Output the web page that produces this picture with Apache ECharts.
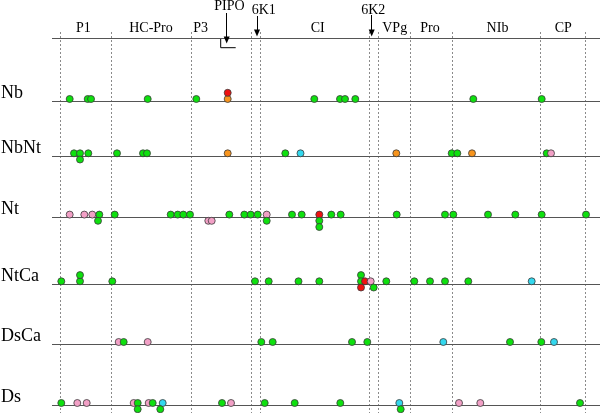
<!DOCTYPE html>
<html>
<head>
<meta charset="utf-8">
<script src="https://cdn.jsdelivr.net/npm/echarts@6/dist/echarts.min.js"></script>
<style>html,body{margin:0;padding:0;background:#fff}#c{width:600px;height:413px}</style>
</head>
<body>
<div id="c"></div>
<script>
// ---------------- DATA ----------------
const rows = ['Nb', 'NbNt', 'Nt', 'NtCa', 'DsCa', 'Ds'];
const proteins = ['P1', 'HC-Pro', 'P3', 'CI', 'VPg', 'Pro', 'NIb', 'CP'];
const proteinLabelPos = [31.3, 99, 148.7, 265.7, 342.7, 378, 445.5, 511.3];
const boundaries = [8.3, 59.3, 139.3, 199.3, 208, 317.3, 326.3, 358.3, 400.3, 488.3, 533.3];
const pointers = ['PIPO', '6K1', '6K2'];
const pointerPos = [174.7, 205, 319.7];
// sites: [map position, colour key, stack level (1 above, -1 below)]
const sitesNb = [[17.7,'g',0],[35.7,'g',0],[39,'g',0],[95.7,'g',0],[144.3,'g',0],[175.7,'o',0],[175.7,'r',1],
  [262.3,'g',0],[288,'g',0],[293,'g',0],[303.3,'g',0],[421.3,'g',0],[489.7,'g',0]];
const sitesNbNt = [[22,'g',0],[28,'g',0],[28,'g',-1],[36.3,'g',0],[65,'g',0],[91,'g',0],[95,'g',0],[175.7,'o',0],
  [233.3,'g',0],[248.5,'c',0],[344.3,'o',0],[399.7,'g',0],[405.3,'g',0],[420,'o',0],[494.7,'g',0],[499,'p',0]];
const sitesNt = [[17.7,'p',0],[32.3,'p',0],[40.3,'p',0],[47.3,'g',0],[46,'g',-1],[62.7,'g',0],[118.7,'g',0],
  [125.7,'g',0],[131.3,'g',0],[138,'g',0],[156.3,'p',-1],[159.7,'p',-1],[177.3,'g',0],[192.3,'g',0],[198.7,'g',0],
  [205.7,'g',0],[214.7,'p',0],[214.7,'g',-1],[240,'g',0],[249.7,'g',0],[267.3,'r',0],[267.3,'g',-1],[267.3,'g',-2],
  [279.3,'g',0],[288.7,'g',0],[344.7,'g',0],[393,'g',0],[401.3,'g',0],[436,'g',0],[463.3,'g',0],[489.7,'g',0],[534,'g',0]];
const sitesNtCa = [[9.3,'g',0],[28,'g',0],[28,'g',1],[60.3,'g',0],[203,'g',0],[216.7,'g',0],[246.5,'g',0],[267.3,'g',0],
  [309,'g',1],[309,'g',0],[313,'r',0],[318.7,'p',0],[309,'r',-1],[321.7,'g',-1],[334.3,'g',0],[362.3,'g',0],[378,'g',0],
  [393,'g',0],[416.3,'g',0],[479.7,'c',0]];
const sitesDsCa = [[66.7,'p',0],[71.7,'g',0],[95.7,'p',0],[209.3,'g',0],[220.7,'g',0],[300,'g',0],[315.3,'g',0],
  [391.3,'c',0],[458,'g',0],[489.3,'g',0],[502,'c',0]];
const sitesDs = [[9.3,'g',0],[25.3,'p',0],[34.7,'p',0],[81.7,'p',0],[85.7,'g',0],[85.7,'g',-1],[96.7,'p',0],[100.7,'g',0],
  [110.7,'c',0],[108.3,'g',-1],[170,'g',0],[179,'p',0],[212.7,'g',0],[242.7,'g',0],[288.3,'g',0],[347.3,'c',0],
  [348.7,'g',-1],[407,'p',0],[428.3,'p',0],[528,'g',0]];
const allSites = [sitesNb, sitesNbNt, sitesNt, sitesNtCa, sitesDsCa, sitesDs];

// ---------------- LAYOUT / STYLE ----------------
const colors = { g: '#0ee00e', r: '#ee1111', o: '#f7941d', p: '#f2a0c6', c: '#33d8ee' };
const rowLineY = [101.7, 156, 217.3, 284, 344.7, 405.7];
const topLineY = 38.3;
const dotLift = 2.7, stackStep = 6.2;
const serif = '"Liberation Serif", "Times New Roman", serif';

const chart = echarts.init(document.getElementById('c'), null, { renderer: 'canvas' });

const dots = [];
allSites.forEach((list, r) => {
  list.forEach(([x, k, lvl]) => {
    dots.push({ value: [x, rowLineY[r] - dotLift - lvl * stackStep], itemStyle: { color: colors[k] } });
  });
});

const arrowEnds = [[13, 40], [16, 33], [15, 33]];
const arrowLines = pointerPos.map((x, i) => [
  { coord: [x, arrowEnds[i][0]], symbol: 'none' },
  { coord: [x, arrowEnds[i][1]], symbol: 'triangle', symbolSize: [6, 7] }
]);

chart.setOption({
  animation: false,
  grid: { left: 52, right: 0, top: 0, bottom: 0 },
  xAxis: { type: 'value', min: 0, max: 548, show: false },
  yAxis: { type: 'value', min: 0, max: 413, inverse: true, show: false },
  series: [
    {
      type: 'line', silent: true, data: [], symbol: 'none',
      markLine: {
        silent: true, symbol: 'none', animation: false, label: { show: false },
        data: boundaries.map(b => [{ coord: [b, 32] }, { coord: [b, 413] }]),
        lineStyle: { color: '#8a8a8a', type: [2, 2], width: 1 }
      }
    },
    {
      type: 'line', silent: true, data: [], symbol: 'none',
      markLine: {
        silent: true, symbol: 'none', animation: false, label: { show: false },
        data: [topLineY].concat(rowLineY).map(y => ({ yAxis: y })),
        lineStyle: { color: '#555', type: 'solid', width: 1 }
      }
    },
    {
      type: 'line', silent: true, data: [], symbol: 'none',
      markLine: {
        silent: true, animation: false, label: { show: false },
        data: arrowLines,
        lineStyle: { color: '#000', type: 'solid', width: 1 },
        itemStyle: { color: '#000' }
      }
    },
    {
      type: 'line', silent: true, symbol: 'none', animation: false,
      lineStyle: { color: '#000', width: 1 },
      data: [[168.7, topLineY], [168.7, 47.7], [183.7, 47.7]]
    },
    {
      type: 'scatter', silent: true, symbol: 'circle', symbolSize: 7,
      itemStyle: { borderColor: '#3a3a3a', borderWidth: 0.8, opacity: 1 },
      data: dots, z: 5
    }
  ]
});

const graphics = [];
rows.forEach((name, i) => {
  const p = chart.convertToPixel({ gridIndex: 0 }, [0, rowLineY[i]]);
  graphics.push({ type: 'text', left: 1, top: p[1] - 17, style: { text: name, font: '18px ' + serif, fill: '#000' } });
});
proteins.forEach((name, i) => {
  const p = chart.convertToPixel({ gridIndex: 0 }, [proteinLabelPos[i], 28]);
  graphics.push({ type: 'text', x: p[0], y: p[1], style: { text: name, font: '14px ' + serif, fill: '#000', align: 'center', verticalAlign: 'middle' } });
});
const ptrLabelX = [229.5, 263.7, 373.3], ptrLabelY = [6, 10, 10];
pointers.forEach((name, i) => {
  graphics.push({ type: 'text', x: ptrLabelX[i], y: ptrLabelY[i], style: { text: name, font: '14px ' + serif, fill: '#000', align: 'center', verticalAlign: 'middle' } });
});
chart.setOption({ graphic: graphics });
</script>
</body>
</html>
